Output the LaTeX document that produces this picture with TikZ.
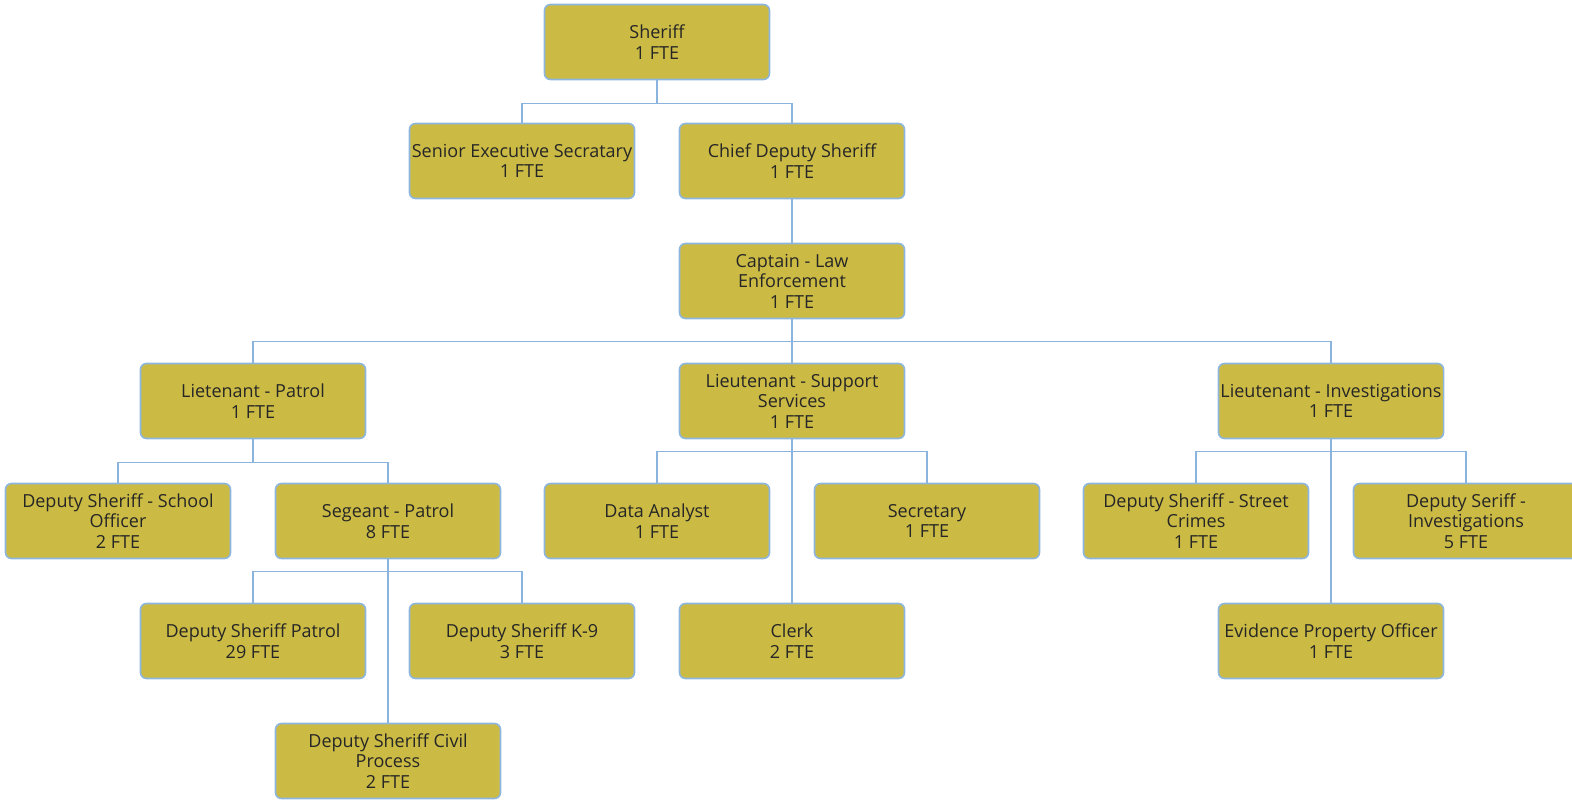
\documentclass[tikz,border=0pt]{standalone}
\usepackage{fontspec}
\setmainfont{Open Sans}
\usepackage{tikz}
\usetikzlibrary{positioning,calc}

\definecolor{postfill}{HTML}{CBBB45}
\definecolor{postedge}{HTML}{8DB6DF}
\definecolor{linkblue}{HTML}{8AB4DE}

\begin{document}
\begin{tikzpicture}[x=0.5pt, y=-0.5pt,
    every node/.append style={font=\fontsize{9}{10.25}\selectfont},
    post/.style={draw=postedge, line width=0.8pt, fill=postfill, rounded corners=3pt,
      minimum width=112.5pt, minimum height=37.5pt, inner sep=1pt, align=center, text=black!85},
    link/.style={draw=linkblue, line width=0.75pt}]
    \useasboundingbox (0,0) rectangle (1572,800);

    % top of the office
    \node(sheriff)[post] at (657,42) {Sheriff\\1 FTE};
    \node(secretary)[post] at (522,161) {Senior Executive Secratary\\1 FTE};
    \node(chief)[post] at (792,161) {Chief Deputy Sheriff\\1 FTE};
    \node(captain)[post] at (792,281) {Captain - Law\\Enforcement\\1 FTE};

    % lieutenants
    \node(ltpatrol)[post] at (253,401) {Lietenant - Patrol\\1 FTE};
    \node(ltsupport)[post] at (792,401) {Lieutenant - Support\\Services\\1 FTE};
    \node(ltinvest)[post] at (1331,401) {Lieutenant - Investigations\\1 FTE};

    % patrol
    \node(school)[post] at (118,521) {Deputy Sheriff - School\\Officer\\2 FTE};
    \node(sergeant)[post] at (388,521) {Segeant - Patrol\\8 FTE};
    \node(dspatrol)[post] at (253,641) {Deputy Sheriff Patrol\\29 FTE};
    \node(canine)[post] at (522,641) {Deputy Sheriff K-9\\3 FTE};
    \node(civil)[post] at (388,761) {Deputy Sheriff Civil\\Process\\2 FTE};

    % support services
    \node(analyst)[post] at (657,521) {Data Analyst\\1 FTE};
    \node(supsec)[post] at (927,521) {Secretary\\1 FTE};
    \node(clerk)[post] at (792,641) {Clerk\\2 FTE};

    % investigations
    \node(street)[post] at (1196,521) {Deputy Sheriff - Street\\Crimes\\1 FTE};
    \node(detective)[post] at (1466,521) {Deputy Seriff -\\Investigations\\5 FTE};
    \node(evidence)[post] at (1331,641) {Evidence Property Officer\\1 FTE};

    % connectors
    \draw[link] (sheriff.south) -- ++(0,23) -| (secretary.north);
    \draw[link] (sheriff.south) ++(0,23) -| (chief.north);
    \draw[link] (chief.south) -- (captain.north);
    \draw[link] (captain.south) -- (ltsupport.north);
    \draw[link] (captain.south) ++(0,22) -| (ltpatrol.north);
    \draw[link] (captain.south) ++(0,22) -| (ltinvest.north);

    \draw[link] (ltpatrol.south) -- ++(0,23) -| (school.north);
    \draw[link] (ltpatrol.south) ++(0,23) -| (sergeant.north);
    \draw[link] (sergeant.south) -- (civil.north);
    \draw[link] (sergeant.south) ++(0,12) -| (dspatrol.north);
    \draw[link] (sergeant.south) ++(0,12) -| (canine.north);

    \draw[link] (ltsupport.south) -- (clerk.north);
    \draw[link] (ltsupport.south) ++(0,12) -| (analyst.north);
    \draw[link] (ltsupport.south) ++(0,12) -| (supsec.north);

    \draw[link] (ltinvest.south) -- (evidence.north);
    \draw[link] (ltinvest.south) ++(0,12) -| (street.north);
    \draw[link] (ltinvest.south) ++(0,12) -| (detective.north);
\end{tikzpicture}
\end{document}
